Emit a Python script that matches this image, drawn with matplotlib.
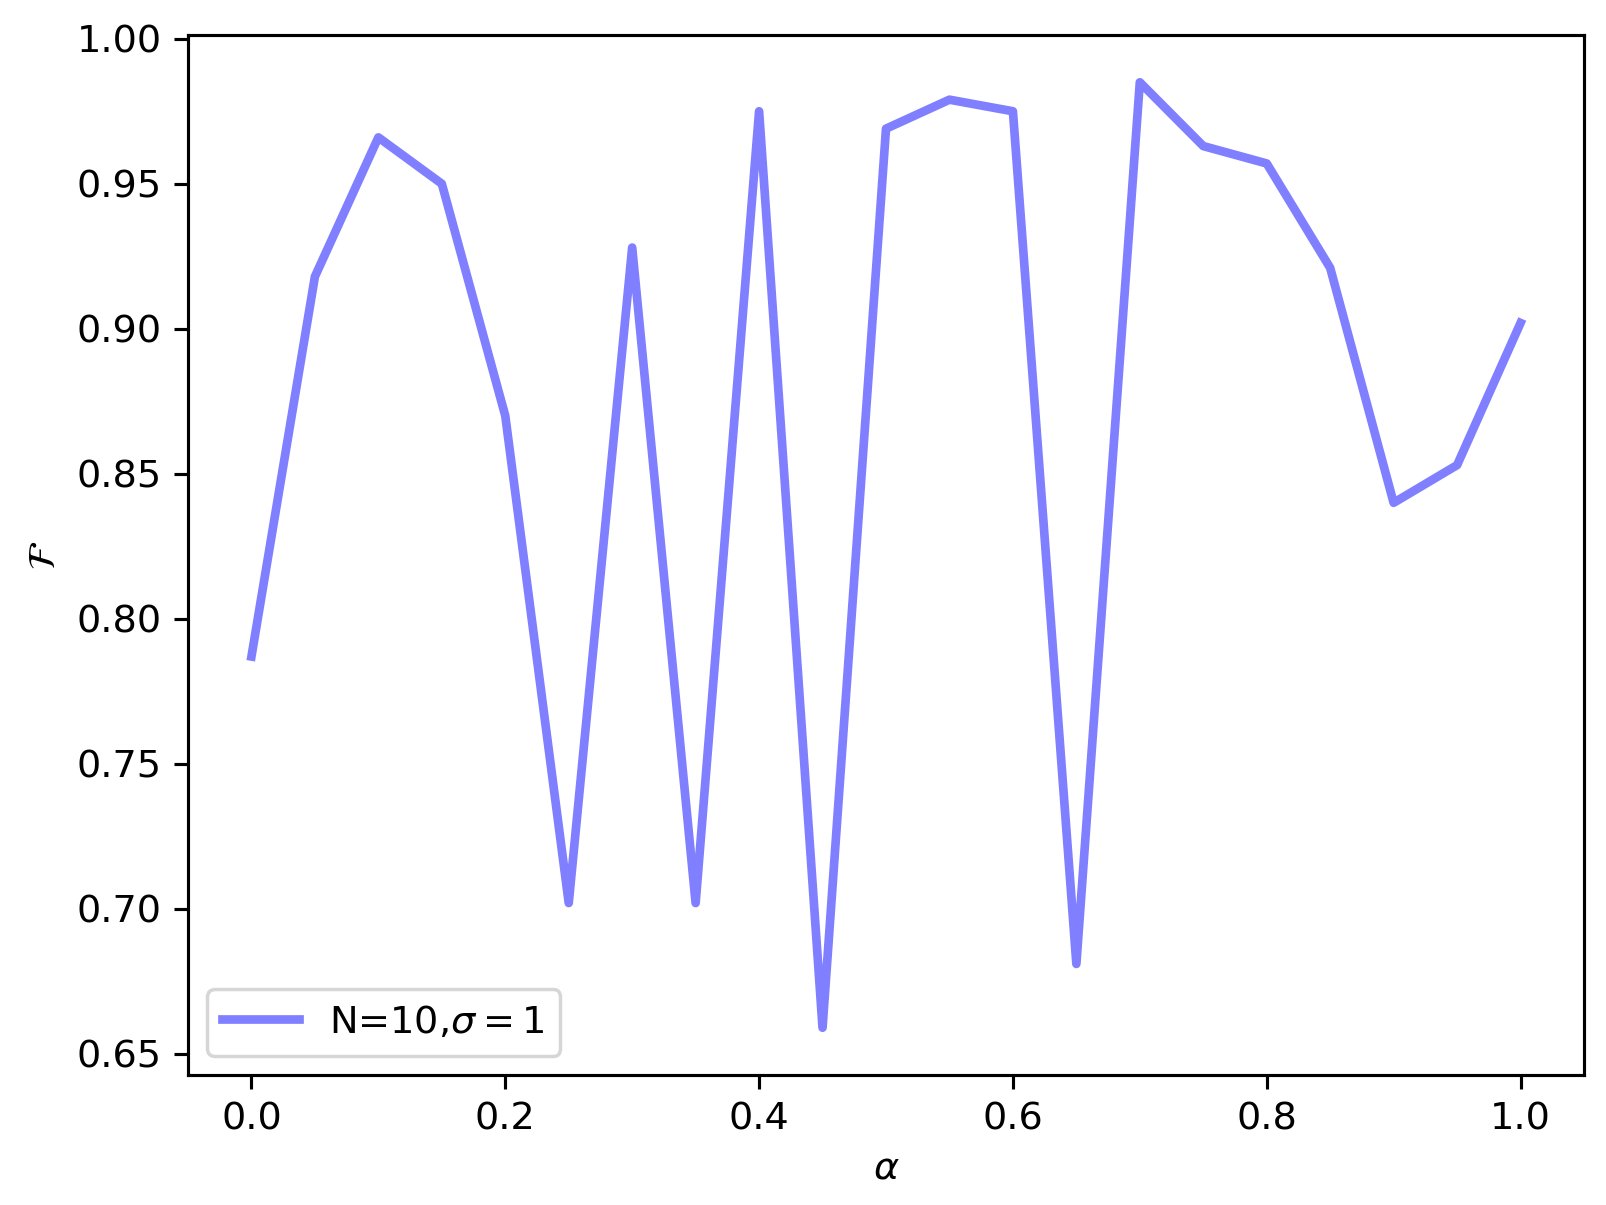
import numpy as np
import matplotlib
matplotlib.use("Agg")
import matplotlib.pyplot as plt

# valeurs de fidélité
alpha = [0.00, 0.05, 0.10, 0.15, 0.20, 0.25, 0.30, 0.35, 0.40, 0.45, 0.50,
         0.55, 0.60, 0.65, 0.70, 0.75, 0.80, 0.85, 0.90, 0.95, 1.00]
fidelity = [0.787, 0.918, 0.966, 0.950, 0.870, 0.702, 0.928, 0.702, 0.975, 0.659, 0.969,
            0.979, 0.975, 0.681, 0.985, 0.963, 0.957, 0.921, 0.840, 0.853, 0.902]

plt.rcParams["font.size"] = 11
fig = plt.figure(figsize=(1606 / 250, 1205 / 250), dpi=250)
ax = fig.add_subplot(111)
fig.subplots_adjust(left=188 / 1606, right=1584 / 1606, top=1 - 35 / 1205, bottom=1 - 1075 / 1205)

ax.plot(alpha, fidelity, color="blue", alpha=0.5, lw=2.5, label=r"N=10,$\sigma=1$")
ax.set_xlabel(r"$\alpha$")
ax.set_ylabel(r"$\mathcal{F}$")
ax.tick_params(width=0.9, length=4)
for s in ax.spines.values():
    s.set_linewidth(0.9)
ax.legend(loc="lower left")

fig.savefig("out.png", dpi=250)
